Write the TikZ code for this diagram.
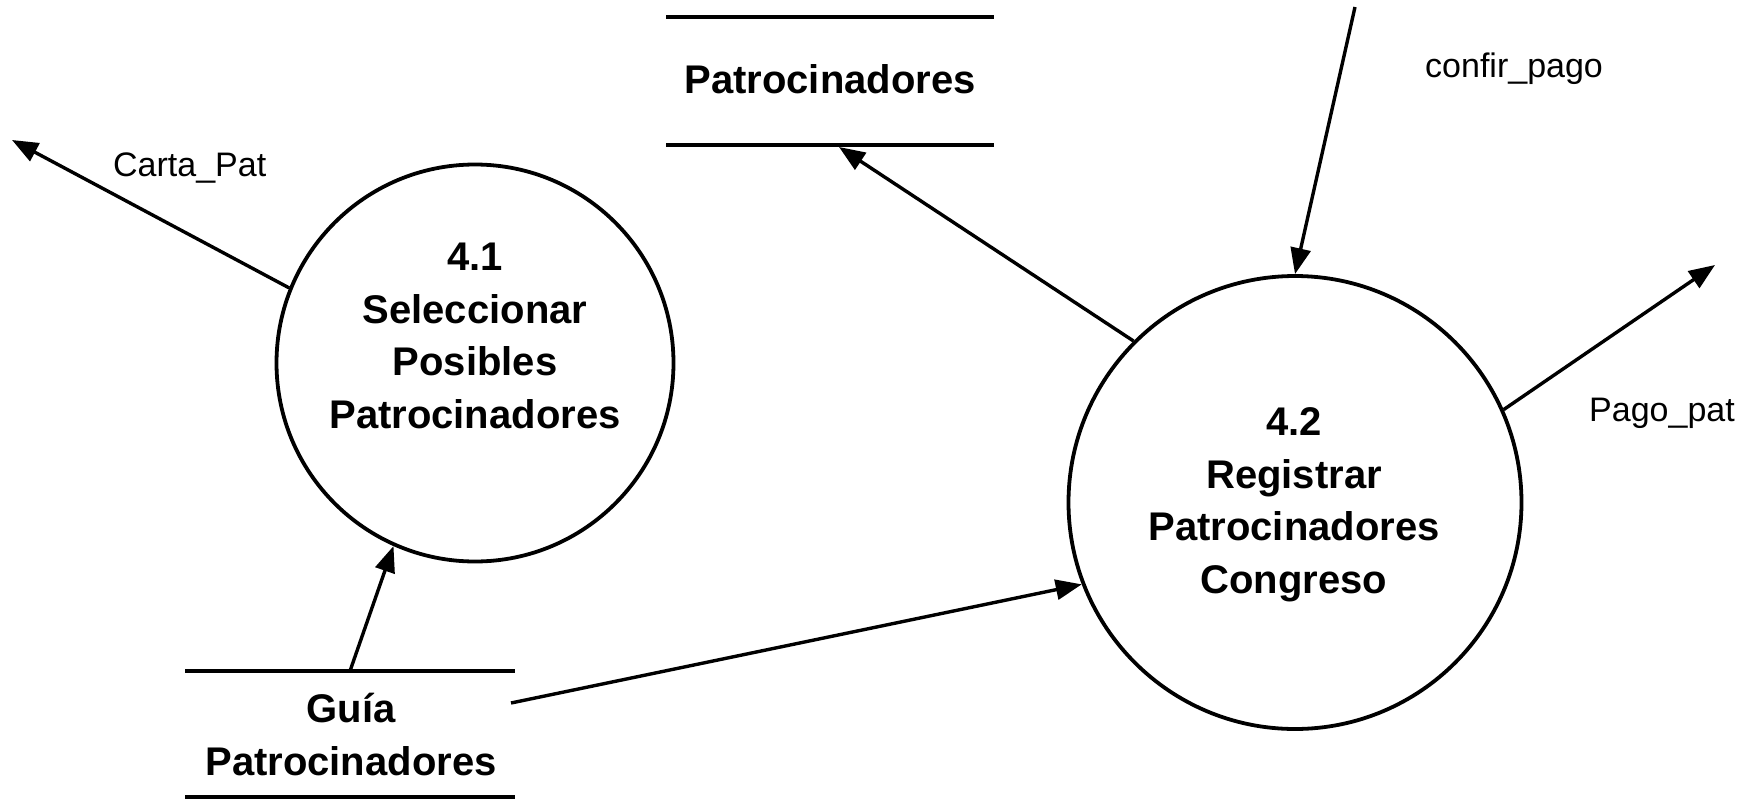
\documentclass[tikz,border=0pt]{standalone}
\usepackage{fontspec}
\setmainfont{Liberation Sans}
\usetikzlibrary{arrows.meta}
\tikzset{
  proc/.style={circle, draw, line width=3.8pt, inner sep=0pt},
  btxt/.style={font=\fontsize{40}{52.5}\selectfont\bfseries, align=center, anchor=base, inner sep=0pt},
  ltxt/.style={font=\fontsize{34}{40}\selectfont, anchor=base west, inner sep=0pt},
  storeline/.style={line width=4.3pt},
  flow/.style={line width=3.4pt, -{Triangle[length=26pt,width=20pt]}}
}
\begin{document}
\begin{tikzpicture}[x=1pt,y=-1pt]
\useasboundingbox (0,0) rectangle (1756,798);
% processes
\node[proc, minimum size=397pt] (c41) at (475,363) {};
\node[proc, minimum size=453pt] (c42) at (1295,502.5) {};
\node[btxt] (t41) at (475,428) {4.1\\Seleccionar\\Posibles\\Patrocinadores};
\node[btxt] (t42) at (1294,593) {4.2\\Registrar\\Patrocinadores\\Congreso};
% store Patrocinadores
\coordinate (s1tl) at (666,17);
\coordinate (s1tr) at (994,17);
\coordinate (s1bl) at (666,145);
\coordinate (s1br) at (994,145);
\draw[storeline] (s1tl) -- (s1tr);
\draw[storeline] (s1bl) -- (s1br);
\node[btxt] (s1) at (830,93) {Patrocinadores};
\coordinate (s1in) at (839,147);
% store Guia
\coordinate (s2tl) at (185,671);
\coordinate (s2tr) at (515,671);
\coordinate (s2bl) at (185,797);
\coordinate (s2br) at (515,797);
\draw[storeline] (s2tl) -- (s2tr);
\draw[storeline] (s2bl) -- (s2br);
\node[btxt] (s2) at (351,775) {Guía\\Patrocinadores};
\coordinate (s2up) at (350,671);
\coordinate (s2right) at (511,703);
% free ends
\coordinate (carta) at (12,140);
\coordinate (confir) at (1355,7);
\coordinate (pago) at (1715,265);
% flows
\draw[flow] (c41.158) -- (carta);
\draw[flow] (s2up) -- (c41.246);
\draw[flow] (s2right) -- (c42.201.4);
\draw[flow] (c42.135.3) -- (s1in);
\draw[flow] (confir) -- (c42.90);
\draw[flow] (c42.24.1) -- (pago);
% labels
\node[ltxt] (lcarta) at (113,176) {Carta\_Pat};
\node[ltxt] (lconfir) at (1425,77) {confir\_pago};
\node[ltxt] (lpago) at (1589,421) {Pago\_pat};
\end{tikzpicture}
\end{document}
